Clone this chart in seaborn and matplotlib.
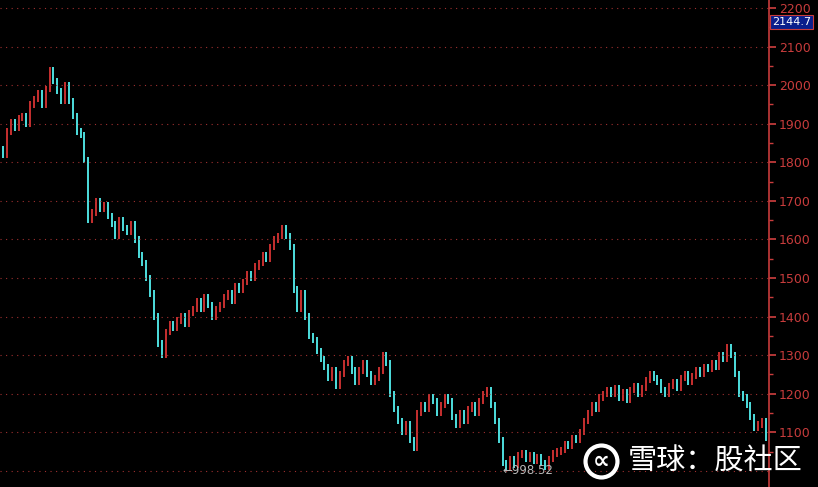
import numpy as np
import pandas as pd
import matplotlib
matplotlib.use("Agg")
import matplotlib.pyplot as plt
import seaborn as sns

sns.set_theme(style="dark")
plt.rcParams['font.family'] = ['Noto Sans CJK SC', 'DejaVu Sans']

# closing prices left to right
closes = [
    1820, 1880, 1905, 1890, 1915, 1920, 1900, 1950, 1965, 1980, 1950, 1990, 2040,
    2010, 1985, 1960, 2000, 1960, 1920, 1880, 1870, 1805, 1650,
    1670, 1700, 1680, 1690, 1660, 1640, 1610, 1650, 1630, 1620, 1640, 1600, 1560, 1540,
    1500, 1460, 1400, 1330, 1300,
    1360, 1380, 1370, 1390, 1400, 1380, 1410, 1420, 1440, 1420, 1450, 1430, 1400, 1420,
    1430, 1450, 1460, 1440, 1480,
    1470, 1490, 1510, 1500, 1530, 1540, 1560, 1550, 1580, 1600, 1610, 1630,
    1610, 1580, 1470, 1420, 1460, 1400, 1350, 1340, 1310, 1290,
    1270, 1240, 1260, 1220, 1250, 1280, 1290, 1260, 1230, 1260, 1280, 1250, 1230, 1240,
    1260, 1300, 1280, 1200,
    1160, 1130, 1100, 1120, 1080, 1060, 1150,
    1170, 1160, 1190, 1180, 1150, 1170, 1190, 1180, 1140, 1120, 1150, 1130, 1160, 1170,
    1150, 1180, 1200, 1210, 1170, 1130,
    1080, 1020, 1010, 1030, 1015, 1040, 1045, 1030, 1040, 1025, 1035, 1020, 1010, 1030,
    1045, 1050, 1055,
    1070, 1065, 1085, 1080, 1100, 1130, 1150, 1170, 1160, 1190, 1200, 1210,
    1200, 1215, 1190, 1205, 1185, 1210, 1220, 1200, 1215, 1235, 1250, 1240, 1230, 1210,
    1200, 1220, 1230, 1215, 1240, 1250, 1230, 1245, 1260, 1250, 1270, 1265,
    1280, 1270, 1300, 1290, 1320, 1300, 1250, 1200, 1190, 1170, 1140, 1110, 1120, 1130, 1085,
]
first_open = 1835
low_label = "998.52"
last_label = "2144.7"
yticks = [1100, 1200, 1300, 1400, 1500, 1600, 1700, 1800, 1900, 2000, 2100, 2200]

df = pd.DataFrame({"close": closes})
df["open"] = df["close"].shift(1).fillna(first_open)
df["x"] = np.arange(len(df))
df["up"] = df["close"] >= df["open"]

UP = "#d83434"
DOWN = "#54f0f0"
AXC = "#c83c3c"

fig = plt.figure(figsize=(8.18, 4.87), dpi=100, facecolor="black")
ax = fig.add_axes([0, 0, 769 / 818, 1])
ax.set_facecolor("black")

for up, color in ((True, UP), (False, DOWN)):
    sub = df[df["up"] == up]
    lo = np.minimum(sub["open"], sub["close"])
    hi = np.maximum(sub["open"], sub["close"])
    ax.vlines(sub["x"], lo - 8, hi + 8, color=color, lw=1.3)

n = len(df)
ax.set_xlim(-0.8, n - 0.2)
ax.set_ylim(958, 2221)
ax.yaxis.tick_right()
ax.set_yticks(yticks)
ax.set_yticklabels([str(t) for t in yticks])
ax.set_yticks(np.arange(1050, 2200, 100), minor=True)
ax.set_xticks([])
ax.tick_params(axis="y", which="major", colors=AXC, labelcolor=AXC, labelsize=9,
               length=5, direction="out", pad=2)
ax.tick_params(axis="y", which="minor", colors=AXC, length=3, direction="out")
for t in ax.get_yticklabels():
    t.set_family("DejaVu Sans")
for y in yticks + [1000]:
    ax.axhline(y, color="#a03030", lw=0.8, ls=(0, (1, 4)))
for s in ("top", "left", "bottom"):
    ax.spines[s].set_visible(False)
ax.spines["right"].set_color(AXC)
ax.spines["right"].set_linewidth(1.2)
ax.grid(False)

# low marker
ilow = int(np.argmin(closes))
ax.text(ilow - 1.0, 1001, "\u2190" + low_label, color="#b8b8b8", fontsize=8.5,
        va="center", ha="left", family="DejaVu Sans")

# last-value box on the axis
fig.text(772 / 818, 1 - 22 / 487, last_label, color="white", fontsize=8,
         va="center", ha="left", family="DejaVu Sans",
         bbox=dict(boxstyle="square,pad=0.15", fc="#0a1e8c", ec="#c83c3c", lw=0.8))

# watermark
lx, ly = 601 / 769, 1 - 461 / 487
ax.plot([lx], [ly], marker="o", ms=23, mfc="none", mec="white", mew=3,
        transform=ax.transAxes, clip_on=False)
ax.text(lx, ly, "\u221d", color="white", fontsize=17, transform=ax.transAxes,
        va="center", ha="center", family="DejaVu Sans", fontweight="bold")
fig.text(628 / 818, 1 - 462 / 487, "雪球：股社区", color="white", fontsize=21,
         va="center", ha="left")

plt.savefig("out.png", dpi=100, facecolor="black")
plt.close()
